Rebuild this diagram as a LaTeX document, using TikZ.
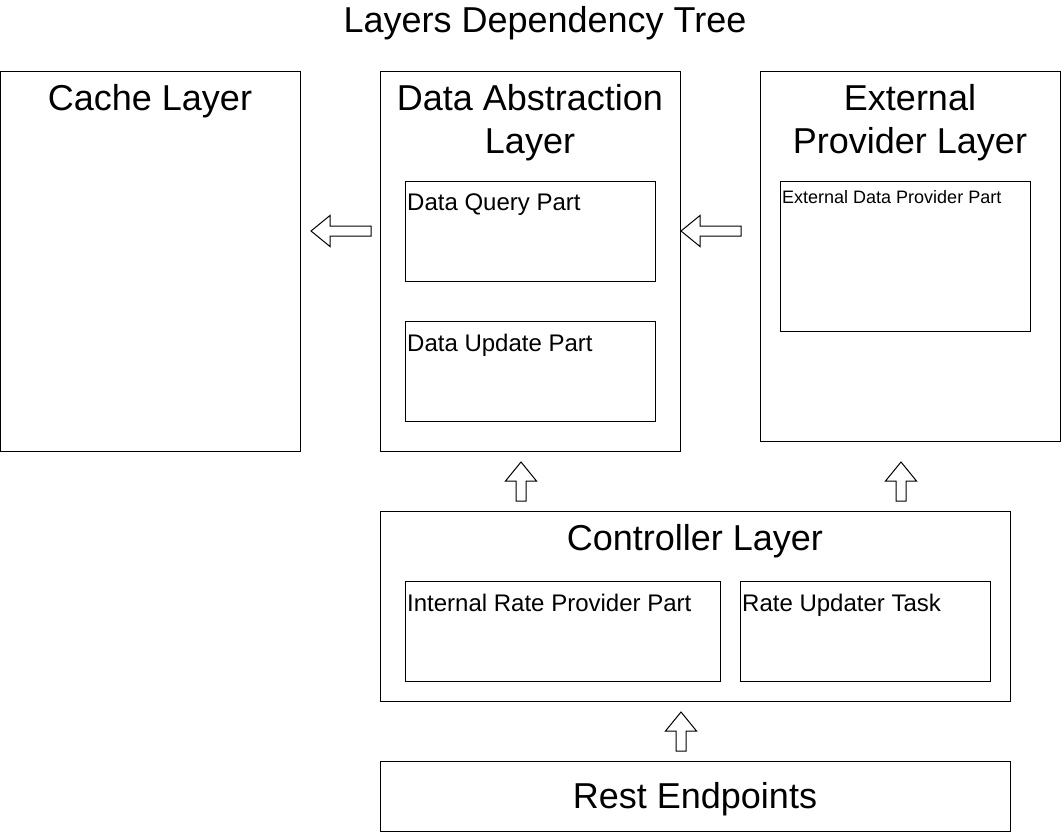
\documentclass[tikz,border=0pt]{standalone}
\usepackage{fontspec}
\setmainfont{Liberation Sans}
\newcommand{\blockarrow}[3]{
    \draw[blockarrow,shift={(#2)},rotate=#1] (0,-5)
        -- (#3-19,-5) -- (#3-19,-15.5)
        -- (#3,0)
        -- (#3-19,15.5) -- (#3-19,5)
        -- (0,5) -- cycle;
}

\begin{document}
\begin{tikzpicture}[
        x=1pt,y=-1pt,
        box/.style={
            draw=black,
            fill=white,
            line width=1pt,
            inner sep=0pt,
        },
        bigtext/.style={
            inner sep=0pt,
            font=\fontsize{36}{43.2}\selectfont,
        },
        parttext/.style={
            inner sep=0pt,
            anchor=base west,
            font=\fontsize{24}{28.8}\selectfont,
        },
        blockarrow/.style={
            draw=black,
            fill=white,
            line width=1pt,
            line join=miter,
        }
    ]
    \useasboundingbox (0,0) rectangle (1061,832);
    \node[bigtext,anchor=base] (title) at (545,33) {Layers Dependency Tree};

    % layers
    \node[box,minimum width=300pt,minimum height=380pt] (cache) at (150.5,261.5) {};
    \node[box,minimum width=300pt,minimum height=380pt] (dal) at (530.5,261.5) {};
    \node[box,minimum width=300pt,minimum height=370pt] (ext) at (910.5,256.5) {};
    \node[box,minimum width=630pt,minimum height=190pt] (ctrl) at (695.5,606.5) {};
    \node[box,minimum width=630pt,minimum height=70pt] (rest) at (695.5,796.5) {};

    \node[bigtext,anchor=base] (cachetitle) at (150,111) {Cache Layer};
    \node[bigtext,anchor=base] (daltitle) at (530,111) {Data Abstraction};
    \node[bigtext,anchor=base] (daltitle2) at (530,154) {Layer};
    \node[bigtext,anchor=base] (exttitle) at (910,111) {External};
    \node[bigtext,anchor=base] (exttitle2) at (910,154) {Provider Layer};
    \node[bigtext,anchor=base] (ctrltitle) at (695,550) {Controller Layer};
    \node[bigtext,anchor=base] (resttitle) at (695,808) {Rest Endpoints};

    % parts
    \node[box,minimum width=250pt,minimum height=100pt] (query) at (530.5,231.5) {};
    \node[box,minimum width=250pt,minimum height=100pt] (update) at (530.5,371.5) {};
    \node[box,minimum width=250pt,minimum height=150pt] (provider) at (905.5,256.5) {};
    \node[box,minimum width=315pt,minimum height=100pt] (internal) at (563,631.5) {};
    \node[box,minimum width=250pt,minimum height=100pt] (updater) at (865.5,631.5) {};

    \node[parttext] (querytext) at (407,211) {Data Query Part};
    \node[parttext] (updatetext) at (407,351) {Data Update Part};
    \node[parttext,font=\fontsize{18}{21.6}\selectfont] (providertext) at (782,204) {External Data Provider Part};
    \node[parttext] (internaltext) at (407,611) {Internal Rate Provider Part};
    \node[parttext] (updatertext) at (742,611) {Rate Updater Task};

    % dependencies
    \blockarrow{180}{371,231}{60}
    \blockarrow{180}{741,231}{60}
    \foreach \x in {521,901}{
        \blockarrow{90}{\x,501}{39}
    }
    \blockarrow{90}{681,751}{39}
\end{tikzpicture}
\end{document}
